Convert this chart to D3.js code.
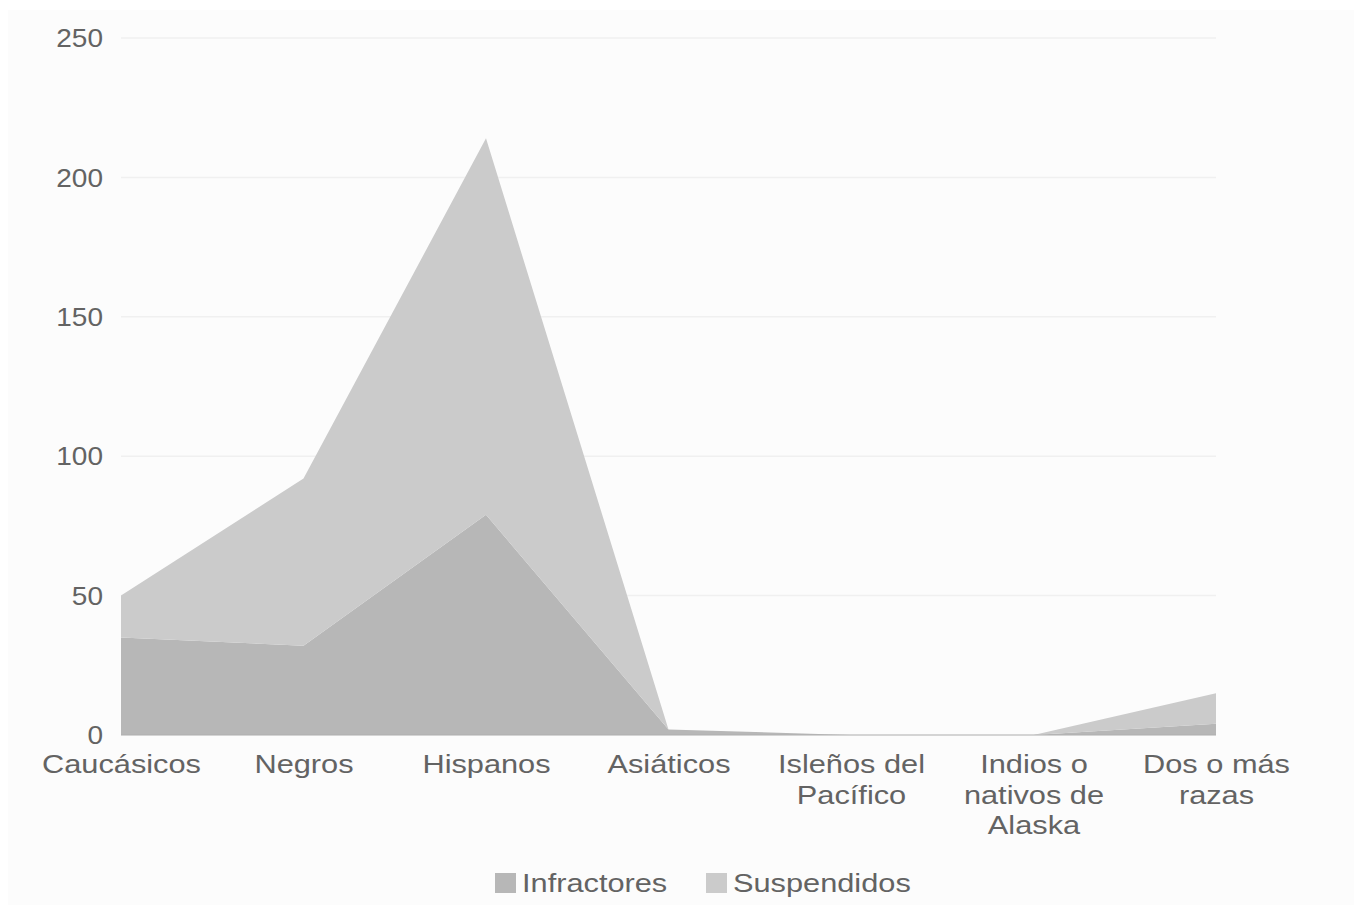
<!DOCTYPE html>
<html>
<head>
<meta charset="utf-8">
<script src="https://cdn.jsdelivr.net/npm/d3@7"></script>
<style>
  html, body { margin: 0; padding: 0; background: #ffffff; }
  svg { display: block; }
  text { font-family: "Liberation Sans", Arial, sans-serif; fill: #636363; }
</style>
</head>
<body>
<svg id="chart" width="1354" height="913"></svg>
<script>
const categories = ["Caucásicos", "Negros", "Hispanos", "Asiáticos", "Isleños del Pacífico", "Indios o nativos de Alaska", "Dos o más razas"];
const categoryLines = [["Caucásicos"], ["Negros"], ["Hispanos"], ["Asiáticos"], ["Isleños del", "Pacífico"], ["Indios o", "nativos de", "Alaska"], ["Dos o más", "razas"]];
const seriesNames = ["Infractores", "Suspendidos"];
const infractores = [35, 32, 79, 2, 0, 0, 4];
const suspendidos = [15, 60, 135, 0, 0, 0, 11];
const yTicks = [0, 50, 100, 150, 200, 250];
const colors = ["#b7b7b7", "#cbcbcb"];

(function () {
  const svg = d3.select("#chart");
  const W = 1354;
  const mLeft = 121, mRight = 1216, mTop = 38, mBottom = 735;
  const sxY = 1.12, sxT = 1.23;

  svg.append("rect").attr("x", 8).attr("y", 10).attr("width", W - 8).attr("height", 895).attr("fill", "#fcfcfc");

  const x = d3.scalePoint().domain(categories).range([mLeft, mRight]);
  const y = d3.scaleLinear().domain([0, 250]).range([mBottom, mTop]);

  // gridlines
  svg.append("g").selectAll("line").data(yTicks).join("line")
    .attr("x1", mLeft).attr("x2", mRight)
    .attr("y1", d => y(d)).attr("y2", d => y(d))
    .attr("stroke", "#f0f0f0").attr("stroke-width", 1.5);

  // stacked data
  const rows = categories.map((c, i) => ({ cat: c, Infractores: infractores[i], Suspendidos: suspendidos[i] }));
  const stack = d3.stack().keys(seriesNames)(rows);
  const area = d3.area()
    .x(d => x(d.data.cat))
    .y0(d => y(d[0]))
    .y1(d => y(d[1]));

  svg.append("g").selectAll("path").data(stack).join("path")
    .attr("d", area)
    .attr("fill", (d, i) => colors[i]);

  // baseline
  svg.append("line").attr("x1", mLeft).attr("x2", mRight).attr("y1", y(0)).attr("y2", y(0))
    .attr("stroke", "#b0b0b0").attr("stroke-width", 1.5).attr("opacity", 0.6);

  // y axis
  const yAxis = d3.axisLeft(y).tickValues(yTicks).tickSize(0).tickPadding(0);
  const yg = svg.append("g").attr("transform", `translate(103,0)`).call(yAxis);
  yg.select(".domain").remove();
  yg.selectAll("text")
    .attr("x", 0).attr("dy", "0.35em")
    .attr("transform", `scale(${sxY},1)`)
    .style("font-size", "25px").style("font-family", "'Liberation Sans', Arial, sans-serif").attr("fill", "#636363");

  // x axis
  const xAxis = d3.axisBottom(x).tickSize(0).tickFormat("");
  const xg = svg.append("g").attr("transform", `translate(0,${mBottom})`).call(xAxis);
  xg.select(".domain").remove();
  xg.selectAll(".tick").each(function (d, i) {
    const t = d3.select(this).append("text")
      .attr("text-anchor", "middle")
      .attr("transform", `scale(${sxT},1)`)
      .style("font-size", "25px")
      .attr("fill", "#636363");
    categoryLines[i].forEach((ln, k) => {
      t.append("tspan").attr("x", 0).attr("y", 38 + k * 30.7).text(ln);
    });
  });

  // legend
  const legendItems = [
    { name: seriesNames[0], color: colors[0], x: 495 },
    { name: seriesNames[1], color: colors[1], x: 706 }
  ];
  const lg = svg.append("g");
  legendItems.forEach(it => {
    lg.append("rect").attr("x", it.x).attr("y", 873).attr("width", 21).attr("height", 20).attr("fill", it.color);
    lg.append("text").attr("transform", `translate(${it.x + 27},892) scale(${sxT},1)`)
      .style("font-size", "25px").attr("fill", "#636363").text(it.name);
  });
})();
</script>
</body>
</html>
